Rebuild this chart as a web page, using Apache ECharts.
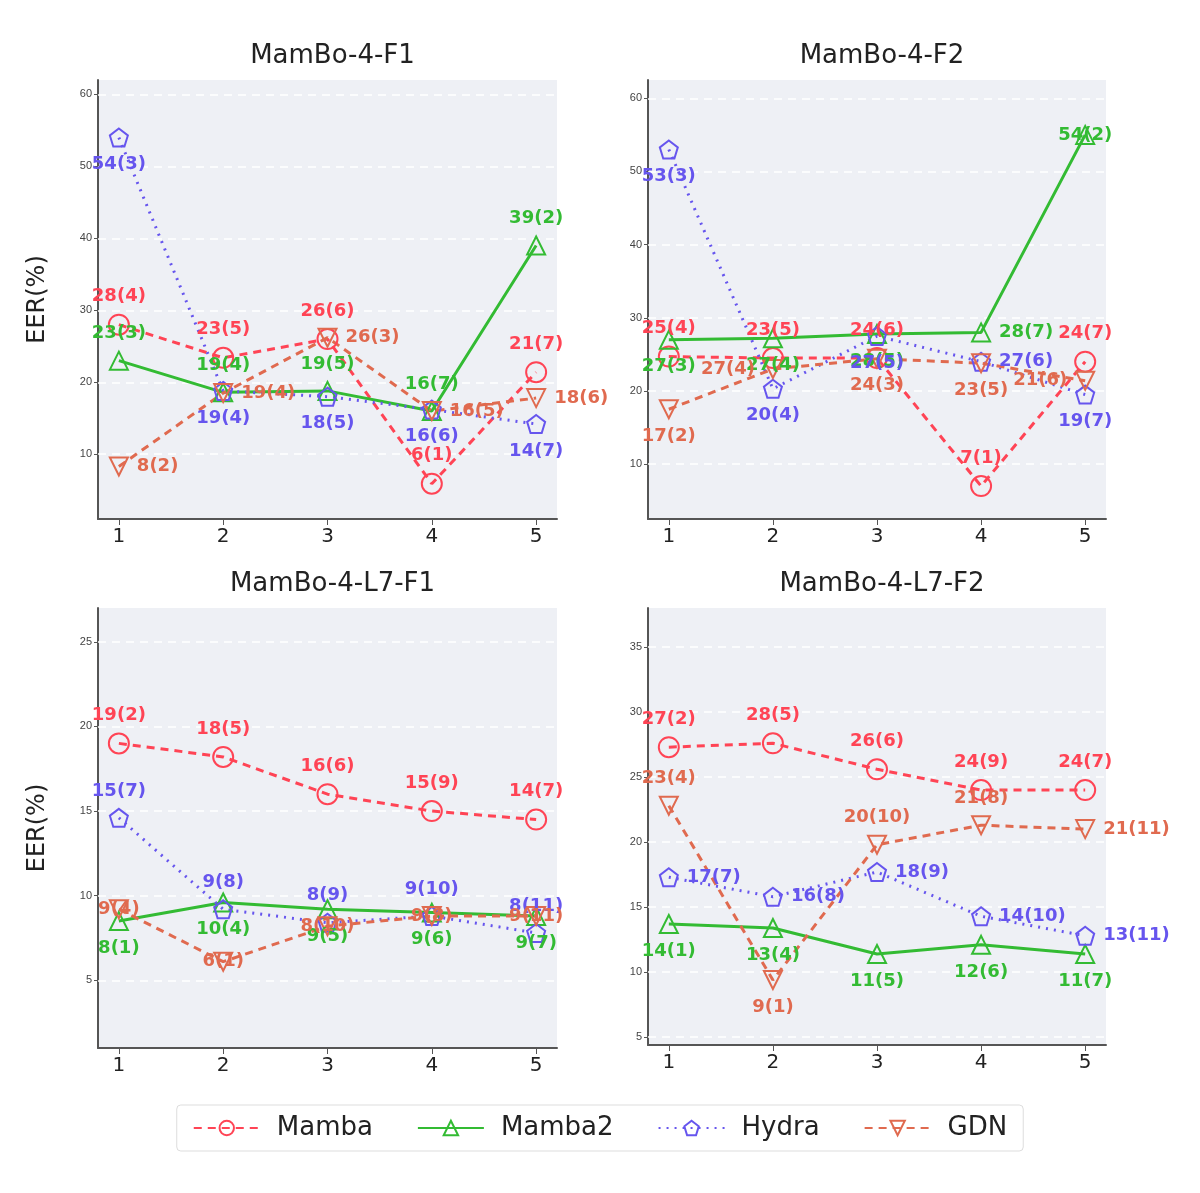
<!DOCTYPE html>
<html>
<head>
<meta charset="utf-8">
<script src="https://cdn.jsdelivr.net/npm/echarts@6/dist/echarts.min.js"></script>
<style>html,body{margin:0;padding:0;background:#fff}#main{width:1200px;height:1193px}</style>
</head>
<body>
<div id="main"></div>
<script>
var chart = echarts.init(document.getElementById('main'));

var xCats = [1, 2, 3, 4, 5];
var panelTitles = ['MamBo-4-F1', 'MamBo-4-F2', 'MamBo-4-L7-F1', 'MamBo-4-L7-F2'];
var seriesNames = ['Mamba', 'Mamba2', 'Hydra', 'GDN'];

// values per panel, per series (Mamba, Mamba2, Hydra, GDN)
var vals_F1 = [[28, 23.4, 26, 5.9, 21.4], [23, 18.6, 18.8, 16, 39], [54, 18.8, 18, 16.2, 14.2], [8.3, 18.5, 26.2, 16, 17.8]];
var vals_F2 = [[24.7, 24.5, 24.5, 7, 24], [27, 27.2, 27.8, 28, 55], [53, 20.3, 27.5, 24, 19.5], [17.5, 23, 24.4, 23.8, 21.4]];
var vals_L7F1 = [[19, 18.2, 16, 15, 14.5], [8.5, 9.6, 9.2, 9.0, 8.8], [14.6, 9.2, 8.4, 8.8, 7.8], [9.2, 6.1, 8.2, 8.8, 8.8]];
var vals_L7F2 = [[27.3, 27.6, 25.6, 24, 24], [13.7, 13.4, 11.4, 12.1, 11.4], [17.3, 15.8, 17.7, 14.3, 12.8], [22.8, 9.4, 19.8, 21.3, 21]];

var lab_F1 = [['28(4)', '23(5)', '26(6)', '6(1)', '21(7)'], ['23(3)', '19(4)', '19(5)', '16(7)', '39(2)'], ['54(3)', '19(4)', '18(5)', '16(6)', '14(7)'], ['8(2)', '19(4)', '26(3)', '16(5)', '18(6)']];
var lab_F2 = [['25(4)', '23(5)', '24(6)', '7(1)', '24(7)'], ['27(3)', '27(4)', '28(5)', '28(7)', '54(2)'], ['53(3)', '20(4)', '27(5)', '27(6)', '19(7)'], ['17(2)', '27(4)', '24(3)', '23(5)', '21(6)']];
var lab_L7F1 = [['19(2)', '18(5)', '16(6)', '15(9)', '14(7)'], ['8(1)', '10(4)', '9(5)', '9(6)', '9(7)'], ['15(7)', '9(8)', '8(9)', '9(10)', '8(11)'], ['9(4)', '6(1)', '8(10)', '9(8)', '9(11)']];
var lab_L7F2 = [['27(2)', '28(5)', '26(6)', '24(9)', '24(7)'], ['14(1)', '13(4)', '11(5)', '12(6)', '11(7)'], ['17(7)', '16(8)', '18(9)', '14(10)', '13(11)'], ['23(4)', '9(1)', '20(10)', '21(8)', '21(11)']];

var yTicks_top = [10, 20, 30, 40, 50, 60];
var yTicks_bl = [5, 10, 15, 20, 25];
var yTicks_br = [5, 10, 15, 20, 25, 30, 35];

var allVals = [vals_F1, vals_F2, vals_L7F1, vals_L7F2];
var allLabs = [lab_F1, lab_F2, lab_L7F1, lab_L7F2];
var yRange = [[1, 62, yTicks_top], [2.5, 62.5, yTicks_top], [1, 27, yTicks_bl], [4.4, 38, yTicks_br]];

// label placement per panel/series/point
var P = {
  0: [['top', 'top', 'top', 'top', 'top'], ['top', 'top', 'top', 'top', 'top'], ['bottom', 'bottom', 'bottom', 'bottom', 'bottom'], ['right', 'right', 'right', 'right', 'right']],
  1: [['top', 'top', 'top', 'top', 'top'], ['bottom', 'bottom', 'bottom', 'right', 'inside'], ['bottom', 'bottom', 'bottom', 'right', 'bottom'], ['bottom', 'left', 'bottom', 'bottom', 'left']],
  2: [['top', 'top', 'top', 'top', 'top'], ['bottom', 'bottom', 'bottom', 'bottom', 'bottom'], ['top', 'top', 'top', 'top', 'top'], ['inside', 'inside', 'inside', 'inside', 'inside']],
  3: [['top', 'top', 'top', 'top', 'top'], ['bottom', 'bottom', 'bottom', 'bottom', 'bottom'], ['right', 'right', 'right', 'right', 'right'], ['top', 'bottom', 'top', 'top', 'right']]
};

var colors = ['#ff4455', '#33bb33', '#6655ee', '#e06a4f'];
var lineTypes = [[8, 6], 'solid', [2, 6], [8, 6]];
var pentagon = 'path://M0,-10 L9.5,-3.1 L5.9,8.1 L-5.9,8.1 L-9.5,-3.1 Z';
var downTri = 'path://M-10,-8 L10,-8 L0,10 Z';
var symbols = ['circle', 'triangle', pentagon, downTri];

var grids = [
  {left: 98, top: 80, width: 459, height: 439},
  {left: 648, top: 80, width: 458, height: 439},
  {left: 98, top: 608, width: 459, height: 440},
  {left: 648, top: 608, width: 458, height: 437}
];

var option = {
  backgroundColor: '#fff',
  animation: false,
  title: [], grid: [], xAxis: [], yAxis: [], series: [],
  legend: {
    bottom: 42, left: 'center', itemWidth: 66, itemHeight: 18, itemGap: 44,
    padding: [10, 16], borderColor: '#ddd', borderWidth: 1, borderRadius: 4,
    textStyle: {fontSize: 26, fontFamily: 'DejaVu Sans', color: '#222', padding: [0, 0, 0, 12]},
    data: seriesNames
  }
};

for (var p = 0; p < 4; p++) {
  var g = grids[p];
  option.grid.push({left: g.left, top: g.top, width: g.width, height: g.height, backgroundColor: '#eef0f5', show: true, borderWidth: 0});
  option.title.push({text: panelTitles[p], left: g.left + g.width / 2, top: g.top - 42, textAlign: 'center',
    textStyle: {fontSize: 26, fontWeight: 'normal', fontFamily: 'DejaVu Sans', color: '#222'}});
  option.xAxis.push({type: 'value', gridIndex: p, min: 0.8, max: 5.2,
    axisLine: {lineStyle: {color: '#555', width: 2}},
    axisTick: {customValues: xCats, length: 6, lineStyle: {color: '#555'}},
    axisLabel: {customValues: xCats, fontSize: 20, color: '#222', fontFamily: 'DejaVu Sans'},
    splitLine: {show: false}});
  option.yAxis.push({type: 'value', gridIndex: p, min: yRange[p][0], max: yRange[p][1],
    name: p % 2 === 0 ? 'EER(%)' : '', nameLocation: 'middle', nameGap: 48,
    nameTextStyle: {fontSize: 24, color: '#222', fontFamily: 'DejaVu Sans'},
    axisLine: {show: true, lineStyle: {color: '#555', width: 2}},
    axisTick: {show: true, customValues: yRange[p][2], length: 4, lineStyle: {color: '#555'}},
    axisLabel: {customValues: yRange[p][2], fontSize: 11, color: '#444', margin: 6},
    splitLine: {show: false}});
  for (var s = 0; s < 4; s++) {
    var data = [];
    for (var i = 0; i < xCats.length; i++) {
      data.push({value: [xCats[i], allVals[p][s][i]],
        label: {position: P[p][s][i], formatter: allLabs[p][s][i]}});
    }
    var ser = {
      name: seriesNames[s], type: 'line', xAxisIndex: p, yAxisIndex: p, data: data,
      symbol: symbols[s], symbolSize: s === 0 ? 20 : 18,
      lineStyle: {color: colors[s], width: 3, type: lineTypes[s]},
      itemStyle: {color: 'rgba(0,0,0,0)', borderColor: colors[s], borderWidth: 2},
      label: {show: true, color: colors[s], fontSize: 18, fontWeight: 'bold', fontFamily: 'DejaVu Sans', distance: 8},
      z: 3
    };
    if (s === 0) {
      // white dashed horizontal gridlines
      ser.markLine = {silent: true, symbol: 'none', label: {show: false},
        lineStyle: {color: '#fff', type: [8, 6], width: 1.5}, z: 1,
        data: yRange[p][2].map(function (v) { return {yAxis: v}; })};
    }
    option.series.push(ser);
  }
}
chart.setOption(option);
</script>
</body>
</html>
